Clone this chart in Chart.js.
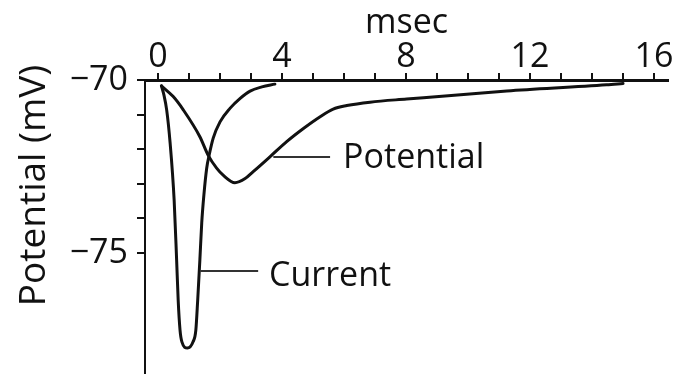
<!DOCTYPE html>
<html>
<head>
<meta charset="utf-8">
<script src="https://cdn.jsdelivr.net/npm/chart.js@4/dist/chart.umd.min.js"></script>
<style>
  html, body { margin: 0; padding: 0; background: #fff; }
  #wrap { width: 684px; height: 374px; }
</style>
</head>
<body>
<div id="wrap"><canvas id="chart" width="684" height="374"></canvas></div>
<script>
// ===== Data =====
const currentMs = [0.11, 0.19, 0.28, 0.39, 0.52, 0.60, 0.65, 0.71, 0.77, 0.95, 1.13, 1.22, 1.28, 1.35, 1.41, 1.48, 1.57, 1.65, 1.78, 2.00, 2.32, 2.65, 2.97, 3.35, 3.77];
const currentMv = [-70.17, -70.43, -70.87, -71.82, -73.47, -75.20, -76.36, -77.23, -77.57, -77.75, -77.57, -77.23, -76.36, -75.20, -74.13, -73.32, -72.55, -72.17, -71.68, -71.21, -70.82, -70.53, -70.32, -70.20, -70.12];

const potentialMs = [0.11, 0.49, 0.82, 1.35, 1.62, 1.89, 2.11, 2.48, 2.81, 3.07, 3.61, 4.15, 4.69, 5.23, 5.65, 6.09, 6.84, 8.02, 11.25, 14.47, 15.0];
const potentialMv = [-70.17, -70.48, -70.87, -71.64, -72.18, -72.55, -72.76, -72.97, -72.85, -72.65, -72.22, -71.78, -71.40, -71.06, -70.84, -70.74, -70.64, -70.55, -70.32, -70.14, -70.10];

const xTicks = [0, 1, 2, 3, 4, 5, 6, 7, 8, 9, 10, 11, 12, 13, 14, 15, 16];
const xTickLabels = [0, 4, 8, 12, 16];
const yTicks = [-70, -71, -72, -73, -74, -75];
const yTickLabels = [-70, -75];

const seriesNames = ['Potential', 'Current'];

// ===== Label placement (leader lines + text) =====
const labelSpots = [
  { text: 'Potential', lineFrom: 3.72, lineTo: 5.55, lineAt: -72.24, textX: 5.97, baseline: -72.54 },
  { text: 'Current', lineFrom: 1.36, lineTo: 3.23, lineAt: -75.52, textX: 3.58, baseline: -75.95 }
];

const FONT = '"Open Sans", "DejaVu Sans", sans-serif';
const INK = '#111';

const toPoints = (xs, ys) => xs.map((v, i) => ({ x: v, y: ys[i] }));
const minus = v => (v < 0 ? '\u2212' + Math.abs(v) : String(v));

// no extra room for edge labels, the axes fill the canvas
const noEdgePadding = s => { s.paddingTop = 0; s.paddingBottom = 0; s.paddingLeft = 0; s.paddingRight = 0; };

// ===== Labels plugin =====
const curveLabels = {
  id: 'curveLabels',
  afterDraw(chart) {
    const { ctx, scales: { x, y } } = chart;
    ctx.save();
    ctx.strokeStyle = '#333';
    ctx.lineWidth = 2;
    ctx.fillStyle = INK;
    ctx.font = '34px ' + FONT;
    ctx.textBaseline = 'alphabetic';
    ctx.textAlign = 'left';
    labelSpots.forEach(s => {
      const ly = Math.round(y.getPixelForValue(s.lineAt));
      ctx.beginPath();
      ctx.moveTo(x.getPixelForValue(s.lineFrom), ly);
      ctx.lineTo(x.getPixelForValue(s.lineTo), ly);
      ctx.stroke();
      ctx.fillText(s.text, x.getPixelForValue(s.textX), y.getPixelForValue(s.baseline));
    });

    // y axis title, sits a bit above the middle of the axis
    ctx.translate(34, y.getPixelForValue(-73.05));
    ctx.rotate(-Math.PI / 2);
    ctx.textAlign = 'center';
    ctx.textBaseline = 'middle';
    ctx.font = '37px ' + FONT;
    ctx.fillText('Potential (mV)', 0, 0);
    ctx.restore();
  }
};

// ===== Chart =====
new Chart(document.getElementById('chart'), {
  type: 'line',
  data: {
    datasets: [
      {
        label: seriesNames[0],
        data: toPoints(potentialMs, potentialMv),
        borderColor: INK,
        borderWidth: 3,
        pointRadius: 0,
        cubicInterpolationMode: 'monotone',
        borderCapStyle: 'round',
        fill: false
      },
      {
        label: seriesNames[1],
        data: toPoints(currentMs, currentMv),
        borderColor: INK,
        borderWidth: 3,
        pointRadius: 0,
        cubicInterpolationMode: 'monotone',
        borderCapStyle: 'round',
        fill: false
      }
    ]
  },
  options: {
    responsive: false,
    animation: false,
    layout: { padding: { left: 0, right: 16, top: 0, bottom: 0 } },
    plugins: { legend: { display: false }, tooltip: { enabled: false } },
    scales: {
      x: {
        type: 'linear',
        position: 'top',
        min: -0.42,
        max: 16.45,
        afterBuildTicks: s => { s.ticks = xTicks.map(v => ({ value: v })); },
        afterFit: s => { s.height = 80; noEdgePadding(s); },
        ticks: {
          autoSkip: false,
          maxRotation: 0,
          padding: -5,
          color: INK,
          font: { family: FONT, size: 34 },
          callback: v => (xTickLabels.includes(v) ? String(v) : '')
        },
        grid: { drawOnChartArea: false, drawTicks: true, tickLength: 7, lineWidth: 2, color: INK },
        border: { display: true, width: 3, color: INK },
        title: { display: true, text: 'msec', color: INK, font: { family: FONT, size: 34 }, padding: { top: 3, bottom: 0 } }
      },
      y: {
        type: 'linear',
        min: -78.5,
        max: -70,
        afterBuildTicks: s => { s.ticks = yTicks.map(v => ({ value: v })); },
        afterFit: s => { s.width = 145; noEdgePadding(s); },
        ticks: {
          padding: 9,
          color: INK,
          font: { family: FONT, size: 34 },
          callback: v => (yTickLabels.includes(v) ? minus(v) : '')
        },
        grid: { drawOnChartArea: false, drawTicks: true, tickLength: 8, lineWidth: 2, color: INK },
        border: { display: true, width: 2, color: INK }
      }
    }
  },
  plugins: [curveLabels]
});
</script>
</body>
</html>
